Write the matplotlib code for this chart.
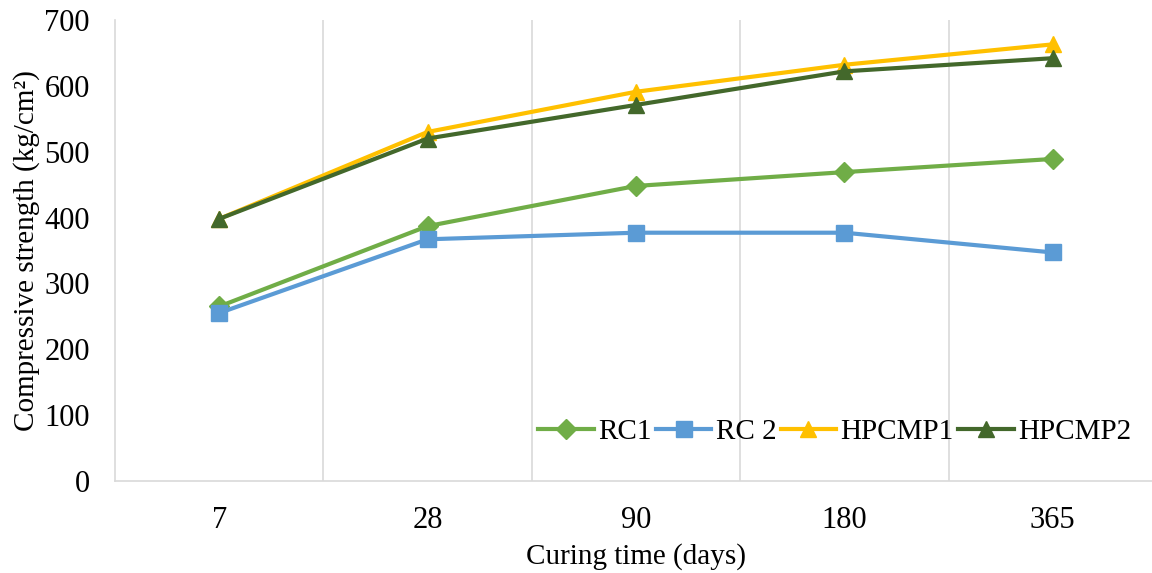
import matplotlib
matplotlib.use("Agg")
import matplotlib.pyplot as plt
import numpy as np

categories = ["7", "28", "90", "180", "365"]
rc1 = [265, 387, 448, 469, 489]
rc2 = [255, 367, 377, 377, 347]
hpcmp1 = [398, 530, 591, 632, 663]
hpcmp2 = [398, 520, 571, 622, 642]

series = [
    ("RC1", rc1, "#70AD47", "D", 10),
    ("RC 2", rc2, "#5B9BD5", "s", 11),
    ("HPCMP1", hpcmp1, "#FFC000", "^", 12),
    ("HPCMP2", hpcmp2, "#43682B", "^", 12),
]

plt.rcParams['font.family'] = ['Liberation Serif', 'DejaVu Serif']

fig = plt.figure(figsize=(11.52, 5.73), dpi=100)
ax = fig.add_axes([0.0998, 0.1606, 0.9045, 0.8045])

x = np.arange(len(categories))
for name, vals, color, marker, ms in series:
    ax.plot(x, vals, color=color, marker=marker, markersize=ms, linewidth=3.0,
            label=name, markeredgecolor=color)

ax.set_xlim(-0.5, len(categories) - 0.5)
ax.set_ylim(0, 700)
ax.set_yticks(np.arange(0, 701, 100))
ax.set_xticks(x)
ax.set_xticklabels(categories)
ax.set_xticks(np.arange(0.5, len(categories) - 0.5, 1.0), minor=True)
ax.grid(True, which="minor", axis="x", color="#D9D9D9", linewidth=1.2)
ax.tick_params(axis="both", which="both", length=0, labelsize=22)
ax.tick_params(axis="x", pad=18)
ax.tick_params(axis="y", pad=18)

for s in ["top", "right"]:
    ax.spines[s].set_visible(False)
for s in ["left", "bottom"]:
    ax.spines[s].set_color("#D9D9D9")
    ax.spines[s].set_linewidth(1.2)

ax.set_xlabel("Curing time (days)", fontsize=21, labelpad=6)
ax.set_ylabel("Compressive strength (kg/cm²)", fontsize=21, labelpad=3)

ax.legend(loc="lower right", ncol=4, frameon=False, fontsize=21,
          handlelength=1.9, columnspacing=0.15, handletextpad=0.15,
          bbox_to_anchor=(0.992, 0.04), borderaxespad=0.2)

fig.savefig("out.png", dpi=100)
